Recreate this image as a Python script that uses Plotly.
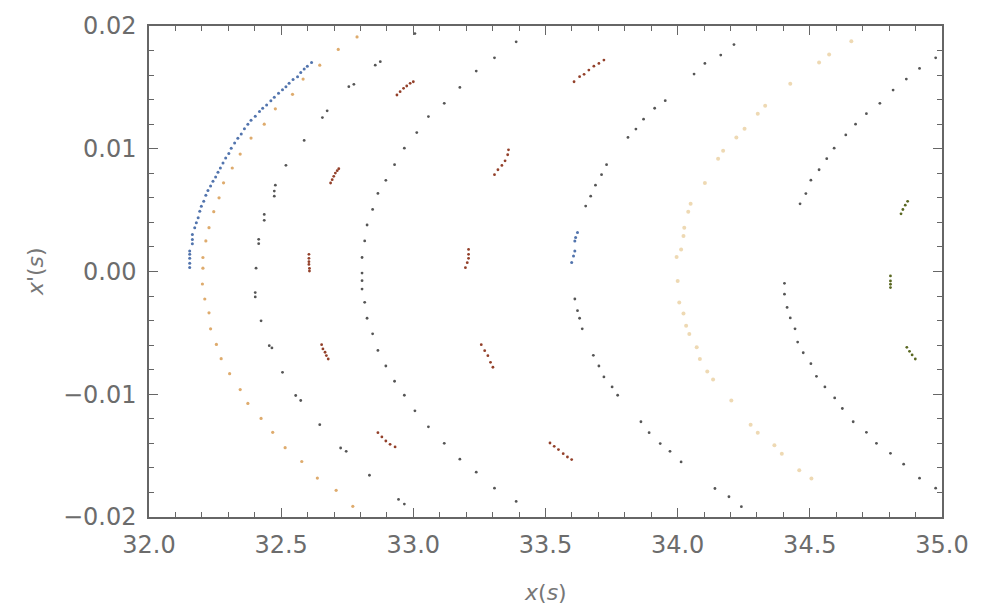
import plotly.graph_objects as go

# ---------------- data ----------------
# leftmost trajectory (blue) + short blue piece near x=33.6
blue_x = [32.154, 32.154, 32.154, 32.154, 32.154, 32.164, 32.164, 32.164, 32.173, 32.179,
          32.186, 32.192, 32.198, 32.207, 32.215, 32.223, 32.233, 32.242, 32.252, 32.261,
          32.270, 32.280, 32.290, 32.302, 32.311, 32.324, 32.336, 32.349, 32.361, 32.374,
          32.386, 32.402, 32.418, 32.430, 32.445, 32.461, 32.474, 32.490, 32.505, 32.518,
          32.530, 32.545, 32.562, 32.574, 32.587, 32.599, 32.615,
          33.621, 33.614, 33.611, 33.611, 33.606, 33.599]
blue_y = [0.00033, 0.00068, 0.00107, 0.00140, 0.00167, 0.00226, 0.00261, 0.00302, 0.00356, 0.00397,
          0.00437, 0.00491, 0.00532, 0.00573, 0.00621, 0.00659, 0.00697, 0.00735, 0.00770, 0.00808,
          0.00843, 0.00883, 0.00924, 0.00962, 0.01005, 0.01046, 0.01086, 0.01121, 0.01162, 0.01200,
          0.01232, 0.01265, 0.01303, 0.01330, 0.01357, 0.01392, 0.01419, 0.01452, 0.01481, 0.01506,
          0.01533, 0.01565, 0.01587, 0.01622, 0.01649, 0.01673, 0.01703,
          0.00317, 0.00276, 0.00249, 0.00168, 0.00127, 0.00073]

# second curve (orange)
c2_x = [32.204, 32.215, 32.227, 32.245, 32.265, 32.282, 32.315, 32.345, 32.386, 32.436,
        32.478, 32.543, 32.583, 32.646, 32.716, 32.787,
        32.204, 32.202, 32.211, 32.227, 32.233, 32.255, 32.273, 32.305, 32.345, 32.374,
        32.424, 32.468, 32.515, 32.578, 32.637, 32.708, 32.771]
c2_y = [0.00114, 0.00249, 0.00357, 0.00487, 0.00600, 0.00722, 0.00843, 0.00957, 0.01087, 0.01200,
        0.01325, 0.01443, 0.01568, 0.01681, 0.01809, 0.01911,
        0.00027, -0.00102, -0.00224, -0.00337, -0.00467, -0.00594, -0.00710, -0.00832, -0.00962, -0.01075,
        -0.01197, -0.01310, -0.01435, -0.01548, -0.01683, -0.01783, -0.01913]

# third curve
c3_x = [32.405, 32.415, 32.415, 32.436, 32.436, 32.474, 32.474, 32.478, 32.518, 32.587,
        32.656, 32.674, 32.756, 32.775, 32.856, 32.875, 33.006,
        32.402, 32.402, 32.424, 32.455, 32.465, 32.505, 32.555, 32.574, 32.646, 32.725,
        32.746, 32.834, 32.944, 32.966]
c3_y = [0.00027, 0.00227, 0.00262, 0.00417, 0.00465, 0.00614, 0.00655, 0.00703, 0.00865, 0.01068,
        0.01254, 0.01309, 0.01506, 0.01525, 0.01681, 0.01709, 0.01938,
        -0.00172, -0.00207, -0.00402, -0.00604, -0.00623, -0.00821, -0.01010, -0.01051, -0.01248, -0.01438,
        -0.01465, -0.01660, -0.01857, -0.01895]

# fourth curve
c4_x = [32.806, 32.816, 32.825, 32.846, 32.866, 32.896, 32.929, 32.966, 33.013, 33.057,
        33.117, 33.176, 33.238, 33.307, 33.389,
        32.806, 32.806, 32.806, 32.816, 32.825, 32.846, 32.866, 32.896, 32.929, 32.966,
        33.006, 33.057, 33.117, 33.176, 33.238, 33.307, 33.389]
c4_y = [0.00114, 0.00249, 0.00379, 0.00506, 0.00636, 0.00743, 0.00870, 0.01005, 0.01132, 0.01262,
        0.01370, 0.01500, 0.01633, 0.01741, 0.01871,
        -0.00013, -0.00075, -0.00143, -0.00251, -0.00381, -0.00508, -0.00643, -0.00770, -0.00894, -0.01008,
        -0.01135, -0.01265, -0.01400, -0.01529, -0.01635, -0.01765, -0.01873]

# fifth curve
c5_x = [33.652, 33.671, 33.689, 33.712, 33.731, 33.812, 33.842, 33.871, 33.913, 33.953,
        34.062, 34.103, 34.163, 34.213,
        33.611, 33.621, 33.629, 33.639, 33.681, 33.702, 33.721, 33.752, 33.773, 33.861,
        33.892, 33.934, 33.971, 34.013, 34.141, 34.194, 34.241]
c5_y = [0.00533, 0.00614, 0.00703, 0.00789, 0.00870, 0.01092, 0.01160, 0.01241, 0.01330, 0.01392,
        0.01608, 0.01695, 0.01763, 0.01849,
        -0.00224, -0.00319, -0.00381, -0.00467, -0.00683, -0.00770, -0.00859, -0.00940, -0.01008, -0.01224,
        -0.01313, -0.01402, -0.01465, -0.01551, -0.01768, -0.01835, -0.01916]

# sixth curve (faint orange)
c6_x = [33.996, 34.013, 34.022, 34.025, 34.040, 34.049, 34.103, 34.153, 34.172, 34.222,
        34.253, 34.303, 34.331, 34.426, 34.535, 34.573, 34.657,
        34.000, 34.006, 34.022, 34.032, 34.044, 34.072, 34.084, 34.112, 34.134, 34.203,
        34.276, 34.303, 34.366, 34.394, 34.460, 34.506]
c6_y = [0.00118, 0.00180, 0.00289, 0.00356, 0.00486, 0.00551, 0.00721, 0.00919, 0.00983, 0.01092,
        0.01162, 0.01286, 0.01351, 0.01530, 0.01703, 0.01768, 0.01876,
        -0.00077, -0.00253, -0.00342, -0.00442, -0.00510, -0.00618, -0.00713, -0.00815, -0.00880, -0.01051,
        -0.01248, -0.01313, -0.01416, -0.01484, -0.01619, -0.01686]

# seventh curve
c7_x = [34.463, 34.485, 34.504, 34.535, 34.564, 34.592, 34.636, 34.673, 34.714, 34.765,
        34.815, 34.865, 34.915, 34.976,
        34.404, 34.404, 34.414, 34.426, 34.444, 34.454, 34.475, 34.504, 34.525, 34.557,
        34.594, 34.623, 34.664, 34.714, 34.752, 34.805, 34.855, 34.915, 34.976]
c7_y = [0.00551, 0.00635, 0.00744, 0.00829, 0.00919, 0.01005, 0.01113, 0.01200, 0.01286, 0.01370,
        0.01478, 0.01568, 0.01654, 0.01741,
        -0.00096, -0.00185, -0.00293, -0.00378, -0.00467, -0.00575, -0.00662, -0.00751, -0.00854, -0.00940,
        -0.01030, -0.01116, -0.01224, -0.01310, -0.01400, -0.01481, -0.01570, -0.01684, -0.01765]

# island chain (red)
isl_red_x = [32.605, 32.605, 32.605, 32.605, 32.607, 32.607,
             32.687, 32.693, 32.699, 32.705, 32.712, 32.718,
             32.653, 32.658, 32.666, 32.671, 32.678,
             32.938, 32.950, 32.963, 32.975, 32.988, 33.000,
             32.866, 32.881, 32.896, 32.912, 32.931,
             33.209, 33.209, 33.209, 33.204, 33.197,
             33.307, 33.320, 33.335, 33.347, 33.357, 33.360,
             33.257, 33.270, 33.282, 33.292, 33.301,
             33.608, 33.629, 33.646, 33.664, 33.683, 33.702, 33.721,
             33.517, 33.533, 33.549, 33.567, 33.583, 33.599]
isl_red_y = [0.00140, 0.00107, 0.00080, 0.00058, 0.00026, 0.00004,
             0.00721, 0.00748, 0.00775, 0.00802, 0.00821, 0.00837,
             -0.00596, -0.00631, -0.00658, -0.00685, -0.00713,
             0.01438, 0.01465, 0.01492, 0.01511, 0.01533, 0.01546,
             -0.01313, -0.01348, -0.01381, -0.01408, -0.01429,
             0.00180, 0.00140, 0.00107, 0.00072, 0.00031,
             0.00789, 0.00829, 0.00864, 0.00902, 0.00951, 0.00991,
             -0.00596, -0.00645, -0.00686, -0.00740, -0.00780,
             0.01546, 0.01587, 0.01606, 0.01641, 0.01673, 0.01695, 0.01722,
             -0.01397, -0.01424, -0.01451, -0.01484, -0.01511, -0.01532]

# island chain (green)
isl_green_x = [34.845, 34.852, 34.861, 34.870,
               34.805, 34.805, 34.805, 34.805,
               34.867, 34.877, 34.887, 34.899]
isl_green_y = [0.00470, 0.00505, 0.00540, 0.00572,
               -0.00036, -0.00077, -0.00104, -0.00131,
               -0.00618, -0.00650, -0.00680, -0.00713]

# ---------------- figure ----------------
series = [
    (c2_x, c2_y, "rgba(214,150,72,0.8)", 3.2),
    (c6_x, c6_y, "rgba(226,192,128,0.6)", 4),
    (c3_x, c3_y, "#555555", 2.8),
    (c4_x, c4_y, "#555555", 2.8),
    (c5_x, c5_y, "#555555", 2.8),
    (c7_x, c7_y, "#555555", 2.8),
    (blue_x, blue_y, "#5274ad", 3),
    (isl_red_x, isl_red_y, "#93402a", 2.8),
    (isl_green_x, isl_green_y, "#5a6822", 2.8),
]

fig = go.Figure()
for xs, ys, col, sz in series:
    fig.add_trace(go.Scatter(x=xs, y=ys, mode="markers",
                             marker=dict(color=col, size=sz, line=dict(width=0)),
                             showlegend=False, hoverinfo="skip"))

axis_common = dict(
    showgrid=False, zeroline=False,
    showline=True, linecolor="#666666", linewidth=1.5, mirror="ticks",
    ticks="inside", ticklen=9, tickwidth=1.3, tickcolor="#666666",
    tickfont=dict(family="DejaVu Sans", size=24, color="#6c6c6c"),
)

fig.update_xaxes(range=[32, 35], dtick=0.5, tick0=32, tickformat=".1f",
                 minor=dict(ticks="inside", dtick=0.1, ticklen=5, tickwidth=1.2, tickcolor="#666666"),
                 ticklabelstandoff=5, **axis_common)
fig.update_yaxes(range=[-0.02, 0.02], dtick=0.01, tick0=0, tickformat=".2f",
                 minor=dict(ticks="inside", dtick=0.002, ticklen=5, tickwidth=1.2, tickcolor="#666666"),
                 ticklabelstandoff=6, **axis_common)

fig.update_layout(
    width=981, height=611,
    margin=dict(l=149, r=34, t=24, b=94),
    paper_bgcolor="white", plot_bgcolor="white",
    annotations=[
        dict(text="<i>x</i>(<i>s</i>)", xref="paper", yref="paper", x=0.5, y=-0.154,
             xanchor="center", yanchor="middle", showarrow=False,
             font=dict(family="DejaVu Sans", size=22, color="#777777")),
        dict(text="<i>x</i>'(<i>s</i>)", xref="paper", yref="paper", x=-0.143, y=0.5,
             xanchor="center", yanchor="middle", textangle=-90, showarrow=False,
             font=dict(family="DejaVu Sans", size=22, color="#777777")),
    ],
)

fig.write_html("out.html")
